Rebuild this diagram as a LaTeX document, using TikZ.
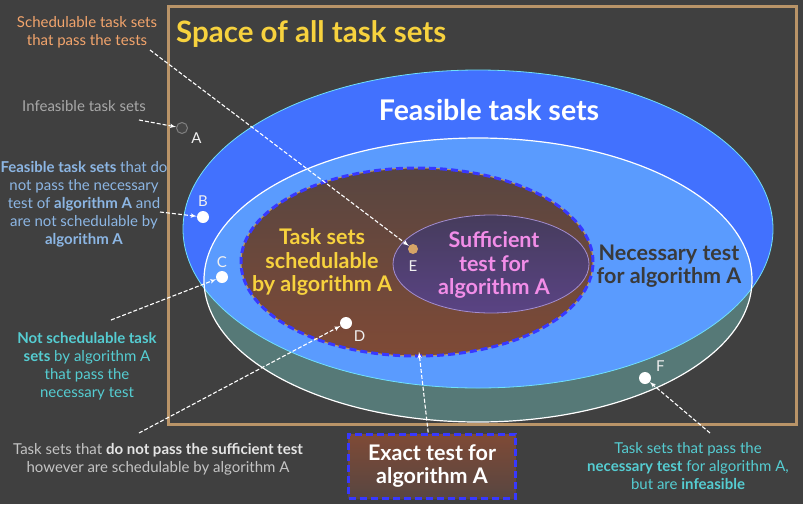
\documentclass[tikz,border=0pt]{standalone}
\usepackage{fontspec}
\setmainfont{Lato}
\usetikzlibrary{calc, arrows}
\definecolor{backgr}{HTML}{404040}
\definecolor{frame}{HTML}{B99468}
\definecolor{titlecol}{HTML}{F7D23E}
\definecolor{feasible}{HTML}{4271FE}
\definecolor{necess}{HTML}{5A9BFE}
\definecolor{outside}{HTML}{567977}
\definecolor{rim}{HTML}{70E0F8}
\definecolor{dashblue}{HTML}{3838FF}
\definecolor{brownT}{HTML}{584641}
\definecolor{brownB}{HTML}{7F4A36}
\definecolor{purpT}{HTML}{463C5C}
\definecolor{purpB}{HTML}{5A4384}
\definecolor{purpRim}{HTML}{A38DD0}
\definecolor{pinkT}{HTML}{F28DE8}
\definecolor{darkT}{HTML}{3A3A3A}
\definecolor{orangeT}{HTML}{F2A46C}
\definecolor{grayT}{HTML}{A8A8A8}
\definecolor{blueT}{HTML}{8CB6E4}
\definecolor{cyanT}{HTML}{55CDD2}
\definecolor{lightT}{HTML}{C4C4C4}
\definecolor{dotE}{HTML}{D6A467}
\tikzstyle{dot}=[circle, fill=white, inner sep=0pt, minimum size=12pt]
\tikzstyle{lbl}=[text=white!94!black, font=\fontsize{15}{15}\selectfont]
\tikzstyle{note}=[align=center, font=\fontsize{15}{18}\selectfont]
\tikzstyle{big}=[align=center, font=\bfseries\fontsize{21.5}{23.5}\selectfont]
\tikzstyle{exdash}=[draw=dashblue, line width=3pt, dash pattern=on 7pt off 4pt]
\tikzstyle{call}=[->, white, line width=1.1pt, dash pattern=on 4pt off 2pt]

\begin{document}
\begin{tikzpicture}[x=1pt,y=-1pt,>=latex']
  \fill[backgr] (0,0) rectangle (803,504);
  \useasboundingbox (0,0) rectangle (803,504);
  % the nested sets
  \coordinate (feas) at (478,229);
  \coordinate (nec) at (478,280);
  \coordinate (ex) at (417,262);
  \coordinate (suf) at (491,264);
  \fill[outside] (nec) ellipse [x radius=274pt, y radius=142pt];
  \fill[feasible] (feas) ellipse [x radius=295pt, y radius=159pt];
  \begin{scope}
    \clip (feas) ellipse [x radius=295pt, y radius=159pt];
    \fill[necess] (nec) ellipse [x radius=274pt, y radius=142pt];
  \end{scope}
  \draw[rim, line width=0.8pt] (feas) ellipse [x radius=295pt, y radius=159pt];
  \draw[white, line width=1.2pt] (nec) ellipse [x radius=274pt, y radius=142pt];
  \shade[top color=brownT, bottom color=brownB] (ex) ellipse [x radius=176pt, y radius=94pt];
  \draw[frame, line width=1pt] (ex) ellipse [x radius=176pt, y radius=94pt];
  \draw[exdash] (ex) ellipse [x radius=176pt, y radius=94pt];
  \shadedraw[top color=purpT, bottom color=purpB, draw=purpRim, line width=0.8pt] (suf) ellipse [x radius=98pt, y radius=49pt];
  \draw[frame, line width=3pt] (168,6) rectangle (796,424);
  % texts
  \node[anchor=base west, text=titlecol, font=\bfseries\fontsize{29.5}{29.5}\selectfont, inner sep=0pt] (title) at (176,42) {Space of all task sets};
  \node[anchor=base, text=white, font=\bfseries\fontsize{28.5}{28.5}\selectfont] (feastxt) at (489,120) {Feasible task sets};
  \node[big, text=titlecol] (schtxt) at (322,262) {Task sets\\schedulable\\by algorithm A};
  \node[big, text=pinkT] (suftxt) at (494,265) {Sufficient\\test for\\algorithm A};
  \node[big, text=darkT] (nectxt) at (669,266) {Necessary test\\for algorithm A};
  \node[big, text=white, exdash, top color=brownB, bottom color=brownT,
        minimum width=167pt, minimum height=64pt] (exact) at (432,466) {Exact test for\\algorithm A};
  % points
  \node[dot, fill=gray!55!black, draw=gray, line width=1pt, minimum size=11pt, label={[lbl]-15:A}] (A) at (182,128) {};
  \node[dot, label={[lbl, label distance=1pt]above:B}] (B) at (203,217) {};
  \node[dot, label={[lbl, label distance=0pt]above:C}] (C) at (222,277) {};
  \node[dot, label={[lbl]-45:D}] (D) at (346,323) {};
  \node[dot, fill=dotE, minimum size=10pt, label={[lbl, label distance=3pt]below:E}] (E) at (413,249) {};
  \node[dot, label={[lbl, label distance=2pt]20:F}] (F) at (645,378) {};
  \coordinate (exbot) at (419,352);
  % notes
  \node[note, text=orangeT] (sched) at (87,32) {Schedulable task sets\\that pass the tests};
  \node[note, text=grayT] (infeas) at (84,106) {Infeasible task sets};
  \node[note, text=blueT] (feasn) at (84,204) {\textbf{Feasible task sets} that do\\not pass the necessary\\test of \textbf{algorithm A} and\\are not schedulable by\\\textbf{algorithm A}};
  \node[note, text=cyanT] (notsch) at (87,366) {\textbf{Not schedulable task}\\\textbf{sets} by algorithm A\\that pass the\\necessary test};
  \node[note, text=lightT] (nosuf) at (158,459) {Task sets that \textbf{\color{white!90!black}do not pass the sufficient test}\\however are schedulable by algorithm A};
  \node[note, text=cyanT] (infe) at (688,466) {Task sets that pass the\\\textbf{necessary test} for algorithm A,\\but are \textbf{infeasible}};
  \coordinate (schedT) at (150,50);
  \coordinate (infeasT) at (139,120);
  \coordinate (feasnT) at (160,212);
  \coordinate (notschT) at (111,320);
  \coordinate (nosufT) at (139,433);
  \coordinate (infeT) at (710,433);
  % callouts
  \path[call] (schedT) edge (E);
  \path[call] (infeasT) edge (A);
  \path[call] (feasnT) edge (B);
  \path[call] (notschT) edge (C);
  \path[call] (nosufT) edge (D);
  \path[call] (infeT) edge (F);
  \path[call] (exact) edge (exbot);
\end{tikzpicture}
\end{document}
